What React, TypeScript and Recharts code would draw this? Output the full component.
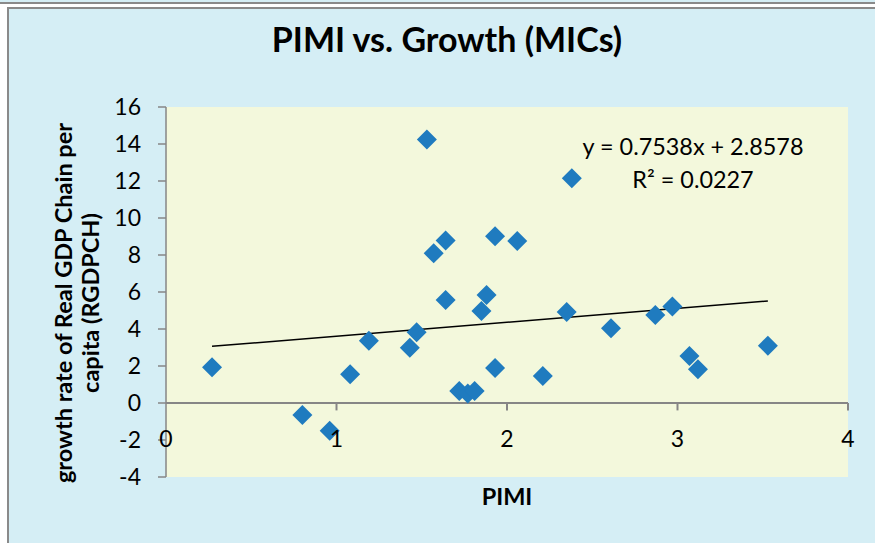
import {
  CartesianGrid,
  ReferenceLine,
  Scatter,
  ScatterChart,
  XAxis,
  YAxis,
} from "recharts";

const pimi = [
  0.27, 0.8, 0.96, 1.08, 1.19, 1.43, 1.47, 1.53, 1.57, 1.64, 1.64, 1.72, 1.77,
  1.81, 1.85, 1.88, 1.93, 1.93, 2.06, 2.21, 2.35, 2.38, 2.61, 2.87, 2.97, 3.07,
  3.12, 3.53,
];
const growth = [
  1.93, -0.65, -1.5, 1.55, 3.37, 2.99, 3.82, 14.25, 8.09, 8.79, 5.57, 0.65,
  0.52, 0.65, 4.97, 5.84, 9.01, 1.89, 8.76, 1.46, 4.92, 12.15, 4.04, 4.76,
  5.21, 2.54, 1.82, 3.1,
];

const xTicks = [0, 1, 2, 3, 4];
const yTicks = [-4, -2, 0, 2, 4, 6, 8, 10, 12, 14, 16];

// linear trendline as printed on the chart
const slope = 0.7538;
const intercept = 2.8578;
const equationText = "y = 0.7538x + 2.8578";
const r2Text = "R² = 0.0227";

const points = pimi.map((x, i) => ({ x, y: growth[i] }));
const xMin = Math.min(...pimi);
const xMax = Math.max(...pimi);
const trend = [
  { x: xMin, y: slope * xMin + intercept },
  { x: xMax, y: slope * xMax + intercept },
];

const FONT = "Lato, 'Open Sans', sans-serif";
const AXIS_GRAY = "#868686";
const MARKER = "#1F7BBF";

function Diamond(props: any) {
  const { cx, cy } = props;
  const r = 10;
  return (
    <polygon
      points={`${cx},${cy - r} ${cx + r},${cy} ${cx},${cy + r} ${cx - r},${cy}`}
      fill={MARKER}
    />
  );
}

function XTick(props: any) {
  const { x, y, payload } = props;
  return (
    <text
      x={x}
      y={y - 39}
      textAnchor="middle"
      dominantBaseline="central"
      fontSize={23}
      fontFamily={FONT}
      fill="#000"
    >
      {payload.value}
    </text>
  );
}

export default function App() {
  return (
    <div
      style={{
        position: "absolute",
        left: 0,
        top: 0,
        width: 875,
        height: 543,
        overflow: "hidden",
        background: "#fff",
        fontFamily: FONT,
      }}
    >
      <div
        style={{
          position: "absolute",
          left: 0,
          top: 0,
          width: 875,
          height: 2,
          background: "#D5EEF5",
          borderBottom: "2px solid #8A8A8A",
        }}
      />
      <div
        style={{
          position: "absolute",
          left: 7,
          top: 7,
          width: 900,
          height: 560,
          background: "#D5EEF5",
          borderLeft: "2px solid #8A8A8A",
          borderTop: "2px solid #8A8A8A",
        }}
      />
      <div style={{ position: "absolute", left: 0, top: 0 }}>
        <ScatterChart
          width={875}
          height={543}
          margin={{ top: 107, right: 27, bottom: 0, left: 0 }}
        >
          <CartesianGrid
            horizontal={false}
            vertical={false}
            stroke="none"
            fill="#F3F8DC"
            fillOpacity={1}
          />
          <XAxis
            type="number"
            dataKey="x"
            domain={[0, 4]}
            ticks={xTicks}
            height={66}
            axisLine={false}
            tickLine={false}
            tickSize={0}
            tickMargin={0}
            tick={<XTick />}
            allowDataOverflow
          />
          <YAxis
            type="number"
            dataKey="y"
            domain={[-4, 16]}
            ticks={yTicks}
            width={166}
            axisLine={{ stroke: AXIS_GRAY, strokeWidth: 1.5 }}
            tickLine={{ stroke: AXIS_GRAY, strokeWidth: 1.5 }}
            tickSize={8}
            tickMargin={17}
            tick={{ fontSize: 23, fontFamily: FONT, fill: "#000" }}
            allowDataOverflow
          />
          <ReferenceLine y={0} stroke={AXIS_GRAY} strokeWidth={2} />
          {xTicks.slice(1).map((t) => (
            <ReferenceLine
              key={t}
              segment={[
                { x: t, y: 0 },
                { x: t, y: -0.4 },
              ]}
              stroke={AXIS_GRAY}
              strokeWidth={2}
            />
          ))}
          <Scatter
            data={points}
            shape={<Diamond />}
            isAnimationActive={false}
          />
          <ReferenceLine
            segment={trend}
            stroke="#000"
            strokeWidth={1.5}
            ifOverflow="visible"
          />
        </ScatterChart>
      </div>
      <div
        style={{
          position: "absolute",
          left: 447,
          top: 38,
          transform: "translate(-50%, -50%)",
          fontSize: 34,
          fontWeight: 700,
          whiteSpace: "nowrap",
        }}
      >
        PIMI vs. Growth (MICs)
      </div>
      <div
        style={{
          position: "absolute",
          left: 77,
          top: 303,
          transform: "translate(-50%, -50%) rotate(-90deg)",
          fontSize: 23.5,
          fontWeight: 700,
          lineHeight: "27px",
          textAlign: "center",
          whiteSpace: "nowrap",
        }}
      >
        growth rate of Real GDP Chain per
        <br />
        capita (RGDPCH)
      </div>
      <div
        style={{
          position: "absolute",
          left: 507,
          top: 496,
          transform: "translate(-50%, -50%)",
          fontSize: 23.5,
          fontWeight: 700,
        }}
      >
        PIMI
      </div>
      <div
        style={{
          position: "absolute",
          left: 693,
          top: 163,
          transform: "translate(-50%, -50%)",
          fontSize: 23.4,
          lineHeight: "33px",
          textAlign: "center",
          whiteSpace: "nowrap",
        }}
      >
        {equationText}
        <br />
        {r2Text}
      </div>
    </div>
  );
}
